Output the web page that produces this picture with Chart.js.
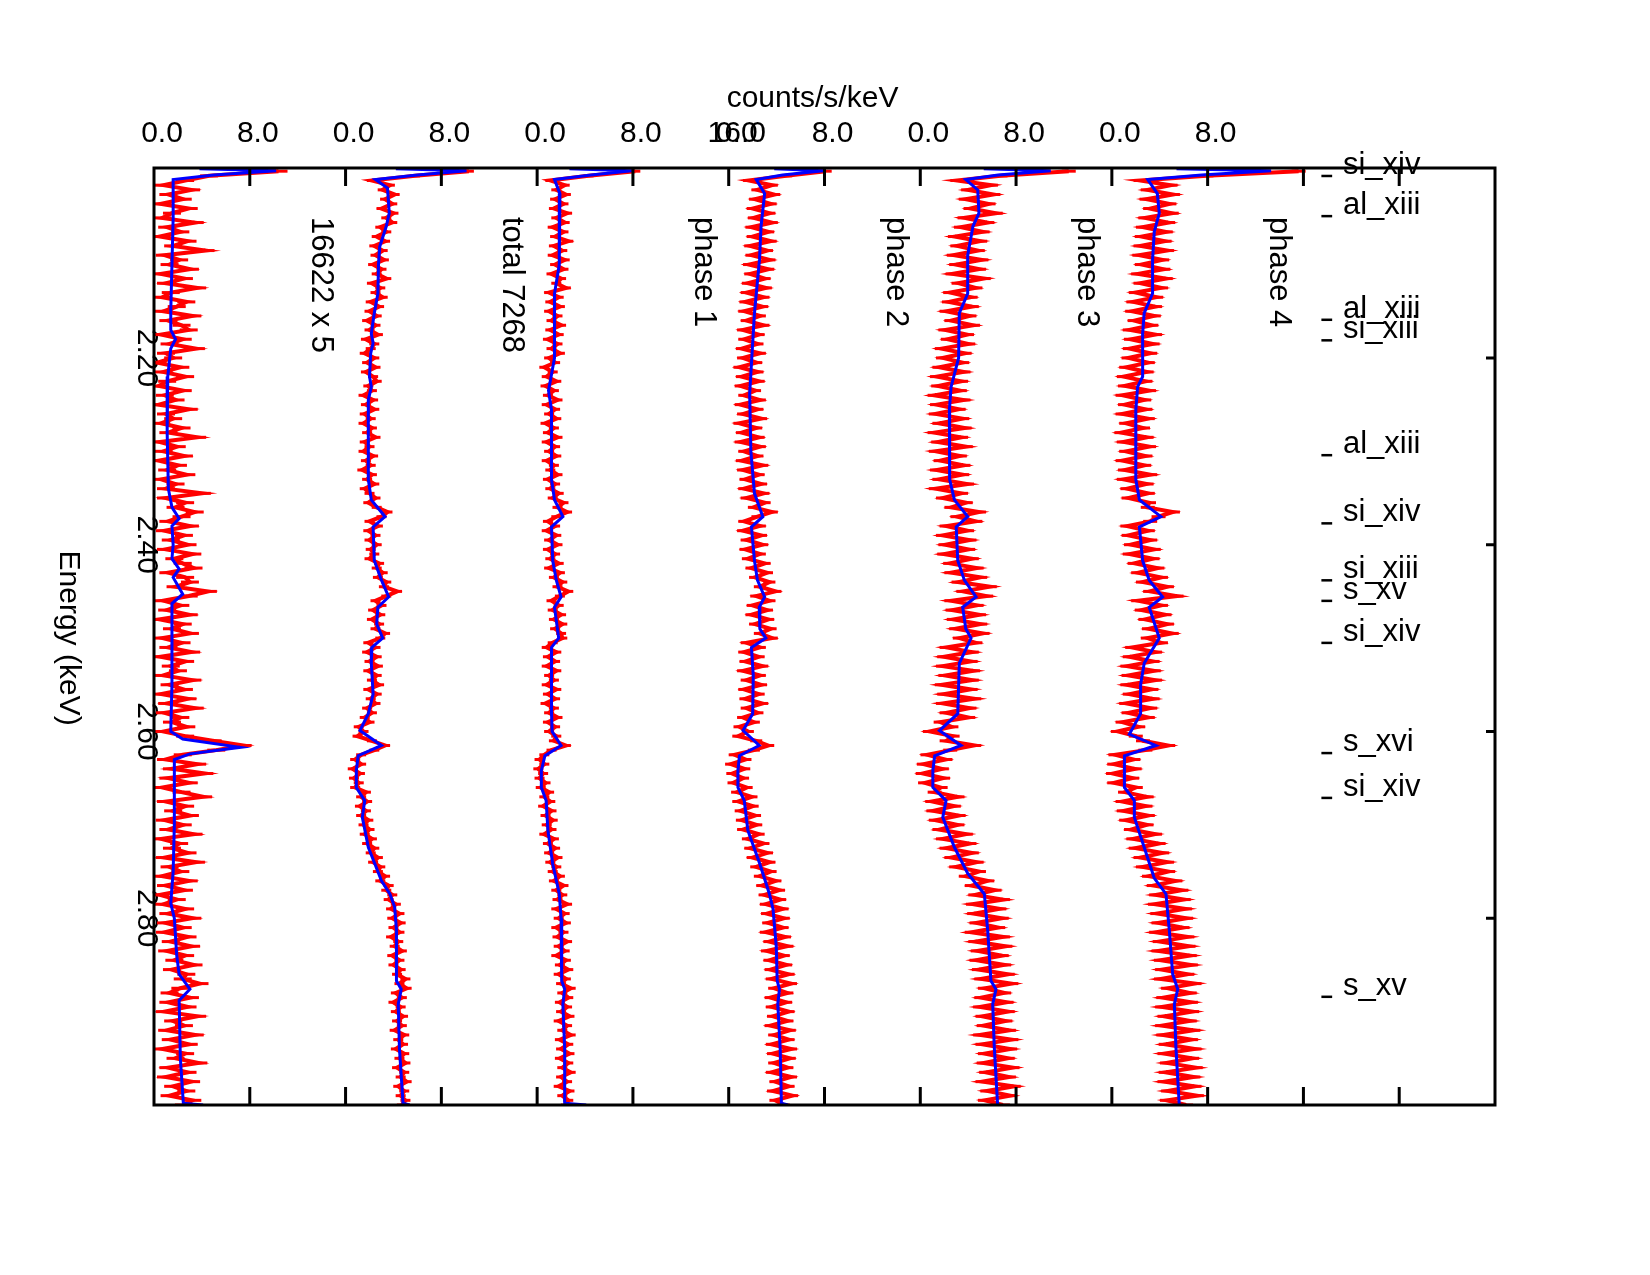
<!DOCTYPE html>
<html>
<head>
<meta charset="utf-8">
<script src="https://cdn.jsdelivr.net/npm/chart.js@4.4.1/dist/chart.umd.min.js"></script>
<style>
  html, body { margin: 0; padding: 0; background: #fff; }
  #wrap { width: 1650px; height: 1275px; }
</style>
</head>
<body>
<div id="wrap"><canvas id="spectra" width="1650" height="1275"></canvas></div>
<script>
// energy bins of the observed spectra (keV)
const binStart = 2.0;
const binWidth = 0.005;

const panelNames = ['16622 x 5', 'total 7268', 'phase 1', 'phase 2', 'phase 3', 'phase 4'];
const panelOffsets = [0, 16, 32, 48, 64, 80];

// observed counts/s/keV, one value per bin
const obs16622 = [
  10.4, 4.6, 2.6, 0.8, 3.1, 1.2, 2.4, 0.6, 2.9, 1.5,
  0.7, 3.4, 1.1, 2.2, 0.5, 2.8, 1.6, 4.3, 0.9, 2.1,
  1.3, 3.0, 0.6, 2.5, 1.0, 3.6, 1.4, 0.7, 2.7, 1.9,
  0.8, 3.2, 1.2, 2.3, 2.9, 0.6, 2.4, 1.3, 3.5, 1.0,
  1.6, 0.3, 2.2, 0.8, 2.6, 1.1, 0.4, 2.4, 0.9, 1.8,
  0.4, 2.9, 1.0, 1.6, 0.6, 2.3, 1.2, 3.6, 0.5, 1.9,
  0.8, 2.5, 0.4, 2.0, 1.1, 2.7, 0.6, 1.8, 1.0, 4.0,
  1.0, 2.6, 1.8, 3.4, 2.3, 1.2, 3.0, 0.9, 2.5, 1.4,
  2.8, 1.0, 3.2, 1.7, 2.4, 3.3, 1.2, 2.6, 3.0, 1.8,
  4.5, 2.9, 0.8, 2.2, 1.1, 2.9, 0.5, 2.4, 1.5, 3.0,
  0.7, 2.3, 1.2, 3.1, 0.6, 2.6, 1.4, 2.0, 0.8, 3.2,
  1.3, 2.5, 0.6, 2.8, 1.1, 3.4, 0.9, 2.2, 1.5, 2.7,
  0.8, 2.6, 4.9, 7.4, 5.2, 2.4, 1.0, 3.6, 1.5, 4.2,
  1.2, 2.9, 0.7, 2.3, 4.1, 1.0, 2.6, 1.6, 3.0, 0.9,
  2.4, 1.2, 3.3, 0.6, 2.1, 1.5, 2.8, 0.9, 3.5, 1.3,
  2.2, 0.7, 2.9, 1.0, 2.5, 0.5, 1.9, 0.8, 2.6, 1.2,
  3.2, 1.0, 2.4, 0.9, 2.8, 1.4, 3.1, 1.1, 2.6, 1.7,
  3.3, 1.5, 2.7, 2.4, 3.8, 2.2, 1.3, 3.0, 1.2, 2.8,
  0.9, 3.6, 1.6, 2.5, 1.1, 3.4, 1.4, 2.9, 0.7, 2.6,
  1.8, 3.7, 1.2, 2.8, 1.0, 3.1, 1.6, 2.7, 1.3, 3.2,
  2.5
];
const obsTotal = [
  10.3, 5.8, 2.2, 3.7, 3.1, 4.1, 3.3, 3.9, 3.0, 4.0,
  3.4, 3.9, 2.9, 3.4, 2.6, 3.3, 2.4, 3.1, 2.5, 3.2,
  2.3, 3.0, 2.6, 3.4, 2.2, 2.9, 2.5, 3.1, 2.1, 2.8,
  2.0, 2.6, 1.8, 2.5, 2.0, 2.7, 1.7, 2.4, 2.1, 1.6,
  2.4, 1.8, 2.5, 1.7, 2.3, 2.6, 1.9, 2.2, 1.5, 2.3,
  1.7, 2.4, 1.6, 2.1, 1.5, 2.2, 1.8, 2.5, 1.6, 2.0,
  1.5, 2.3, 1.7, 2.1, 1.4, 2.2, 1.8, 2.4, 1.6, 2.0,
  2.5, 1.9, 2.6, 3.5, 3.0, 2.0, 2.7, 1.9, 2.5, 2.0,
  2.6, 2.1, 2.4, 2.0, 2.8, 2.6, 3.1, 2.7, 3.4, 3.2,
  4.3, 3.4, 2.5, 3.0, 2.3, 2.9, 2.2, 2.8, 2.5, 3.3,
  2.9, 1.9, 2.5, 1.8, 2.6, 2.0, 2.7, 1.9, 2.6, 2.2,
  2.8, 1.9, 2.6, 2.1, 2.5, 1.8, 2.2, 1.6, 2.0, 1.1,
  1.5, 1.0, 2.2, 3.3, 2.4, 1.3, 0.8, 1.3, 0.6, 1.2,
  0.7, 1.1, 0.8, 1.7, 1.3, 1.8, 1.2, 1.7, 1.3, 1.9,
  1.5, 2.0, 1.6, 2.2, 1.8, 2.4, 2.1, 2.7, 2.3, 2.9,
  2.7, 3.3, 2.9, 3.6, 3.4, 3.9, 3.6, 4.2, 3.8, 4.5,
  3.9, 4.6, 4.0, 4.5, 3.8, 4.4, 4.1, 4.7, 3.9, 4.5,
  4.0, 4.6, 4.3, 5.0, 4.5, 5.1, 4.2, 4.7, 4.0, 4.6,
  4.2, 4.8, 4.3, 4.7, 4.1, 4.9, 4.4, 4.8, 4.2, 4.9,
  4.5, 5.0, 4.3, 4.9, 4.6, 5.1, 4.4, 4.9, 4.6, 5.0,
  4.7
];
const obsPhase1 = [
  8.2, 4.3, 1.1, 2.3, 1.6, 2.4, 1.5, 2.2, 1.4, 2.5,
  1.6, 2.3, 1.3, 2.2, 1.5, 2.6, 1.4, 2.1, 1.3, 2.3,
  1.5, 2.2, 1.2, 2.0, 1.6, 2.4, 1.0, 1.8, 1.1, 1.9,
  1.0, 1.7, 1.2, 2.0, 1.1, 1.8, 0.9, 1.7, 1.2, 1.9,
  1.0, 1.5, 0.6, 1.3, 0.8, 1.6, 0.7, 1.4, 0.9, 1.7,
  0.8, 1.5, 1.0, 1.6, 0.7, 1.4, 0.9, 1.7, 0.8, 1.5,
  1.0, 1.6, 0.8, 1.4, 1.1, 1.7, 0.9, 1.5, 1.1, 1.8,
  1.3, 2.2, 1.7, 2.5, 1.6, 0.9, 1.5, 0.8, 1.6, 1.0,
  1.7, 0.9, 1.5, 1.1, 1.8, 1.0, 1.9, 1.4, 2.1, 1.7,
  2.6, 1.9, 1.2, 1.8, 1.3, 2.0, 1.4, 2.1, 1.5, 2.0,
  2.1, 1.3, 0.8, 1.6, 0.9, 1.5, 0.8, 1.6, 1.0, 1.4,
  0.8, 1.6, 0.9, 1.5, 0.7, 1.4, 1.0, 1.7, 0.9, 1.5,
  1.0, 1.6, 1.4, 2.4, 1.2, 0.6, 0.2, 0.6, 0.1, 0.5,
  0.2, 0.7, 0.3, 1.0, 0.6, 1.1, 0.5, 1.2, 0.7, 1.3,
  0.8, 1.2, 0.6, 1.4, 0.9, 1.5, 1.0, 1.7, 1.1, 1.6,
  1.3, 1.9, 1.4, 2.2, 1.6, 2.1, 1.7, 2.5, 1.6, 2.3,
  1.8, 2.4, 1.6, 2.2, 1.7, 2.5, 1.8, 2.3, 1.6, 2.4,
  1.9, 2.6, 1.8, 2.4, 2.0, 2.8, 2.1, 2.6, 1.9, 2.5,
  2.0, 2.7, 1.8, 2.5, 2.1, 2.8, 1.9, 2.6, 2.0, 2.7,
  1.9, 2.6, 2.1, 2.8, 2.0, 2.5, 1.8, 2.7, 2.1, 2.6,
  2.4
];
const obsPhase2 = [
  8.1, 4.8, 1.7, 3.6, 2.4, 3.8, 2.2, 3.5, 2.0, 3.4,
  2.1, 3.6, 1.9, 3.3, 2.0, 3.5, 1.8, 3.2, 1.9, 3.4,
  1.7, 3.3, 1.8, 3.0, 1.6, 3.1, 1.5, 2.9, 1.4, 2.8,
  1.3, 2.6, 1.5, 2.9, 1.2, 2.5, 1.3, 2.4, 1.1, 2.6,
  1.2, 2.3, 0.9, 2.4, 1.1, 2.5, 1.0, 2.2, 1.3, 2.6,
  1.0, 2.4, 1.2, 2.7, 0.9, 2.3, 1.1, 2.5, 1.0, 2.6,
  1.3, 2.4, 1.1, 2.8, 1.2, 2.5, 1.4, 2.7, 1.3, 2.9,
  1.5, 3.0, 2.1, 3.6, 2.4, 1.3, 2.6, 1.2, 2.7, 1.5,
  2.8, 1.4, 2.6, 1.6, 3.0, 1.9, 3.2, 2.2, 3.4, 2.6,
  3.9, 2.3, 3.4, 2.0, 3.2, 1.9, 3.3, 2.2, 3.5, 2.6,
  3.6, 1.5, 2.6, 1.3, 2.5, 1.4, 2.8, 1.2, 2.6, 1.5,
  2.7, 1.3, 2.5, 1.4, 2.8, 1.5, 2.4, 1.2, 2.1, 0.9,
  1.6, 0.8, 2.3, 3.3, 2.1, 0.5, 1.4, 0.2, 1.3, 0.3,
  1.2, 0.4, 1.5, 0.7, 1.9, 0.8, 2.0, 1.0, 2.2, 1.1,
  2.3, 1.2, 2.5, 1.6, 2.9, 1.8, 3.2, 2.0, 3.4, 2.3,
  3.5, 2.6, 3.9, 2.8, 4.2, 3.0, 4.3, 3.1, 4.5, 3.2,
  4.6, 3.3, 4.5, 3.1, 4.7, 3.4, 4.9, 3.2, 4.6, 3.4,
  4.8, 3.5, 5.0, 3.6, 5.2, 3.8, 4.9, 3.5, 4.8, 3.6,
  5.0, 3.7, 4.9, 3.5, 5.1, 3.8, 5.0, 3.6, 5.2, 3.7,
  5.1, 3.8, 4.9, 3.6, 5.2, 3.9, 5.0, 3.7, 5.3, 3.9,
  4.6
];
const obsPhase3 = [
  12.4, 6.7, 3.1, 5.9, 4.0, 6.1, 3.8, 5.7, 4.2, 6.3,
  3.7, 5.6, 3.4, 5.2, 2.9, 5.0, 3.1, 4.8, 2.8, 5.1,
  3.0, 4.9, 2.7, 5.3, 3.2, 4.6, 2.5, 4.2, 2.4, 4.3,
  2.2, 4.1, 2.6, 4.4, 2.1, 3.9, 2.3, 4.0, 1.8, 3.7,
  1.9, 3.5, 1.6, 3.6, 1.4, 3.4, 1.5, 3.3, 1.2, 3.6,
  1.4, 3.2, 1.3, 3.5, 1.6, 3.7, 1.2, 3.4, 1.5, 3.8,
  1.3, 3.3, 1.7, 3.6, 1.4, 3.5, 1.6, 3.9, 1.3, 3.4,
  1.9, 3.8, 2.6, 4.9, 3.1, 4.6, 2.2, 3.9, 1.9, 4.1,
  2.1, 4.0, 2.0, 4.3, 2.5, 4.7, 2.6, 5.0, 3.2, 5.8,
  3.6, 5.5, 2.6, 4.7, 2.7, 4.9, 2.8, 5.0, 3.0, 5.2,
  3.3, 4.6, 2.2, 4.3, 2.0, 4.2, 1.9, 4.4, 2.1, 4.3,
  1.8, 4.2, 2.0, 4.5, 1.9, 4.1, 2.2, 4.0, 1.7, 2.6,
  0.8, 2.7, 2.2, 4.5, 2.5, 0.6, 2.1, 0.3, 1.8, 0.2,
  1.9, 0.4, 1.7, 1.2, 3.1, 1.0, 2.8, 1.1, 3.2, 1.3,
  3.1, 1.6, 3.8, 1.9, 4.1, 2.2, 4.3, 2.6, 4.7, 3.0,
  4.9, 3.8, 5.6, 4.3, 6.2, 4.6, 6.9, 4.4, 6.6, 4.5,
  6.8, 4.7, 6.5, 4.3, 6.9, 4.6, 7.1, 4.8, 6.8, 4.7,
  7.0, 4.9, 7.3, 5.1, 7.6, 5.4, 7.0, 5.1, 7.2, 5.0,
  7.3, 5.2, 7.1, 5.3, 7.4, 5.0, 7.6, 5.2, 7.5, 5.4,
  7.3, 5.3, 7.7, 5.5, 7.4, 5.2, 7.8, 5.6, 7.5, 5.4,
  6.9
];
const obsPhase4 = [
  15.6, 7.9, 2.4, 4.9, 3.0, 5.1, 2.9, 4.8, 3.2, 5.0,
  2.8, 4.7, 2.6, 4.5, 2.5, 4.4, 2.4, 4.6, 2.3, 4.2,
  2.5, 4.3, 2.2, 4.5, 2.4, 4.1, 2.0, 3.7, 1.8, 3.6,
  1.7, 3.5, 1.9, 3.3, 1.5, 3.6, 1.6, 3.4, 1.5, 3.2,
  1.4, 3.0, 1.2, 2.9, 1.0, 2.8, 1.1, 3.1, 0.9, 2.7,
  1.1, 2.8, 0.9, 3.0, 1.2, 2.6, 0.8, 2.9, 1.0, 3.1,
  1.2, 2.8, 0.9, 2.7, 1.1, 3.2, 1.0, 2.9, 1.3, 3.0,
  1.4, 3.1, 3.0, 5.1, 3.9, 3.2, 1.3, 3.0, 1.4, 3.2,
  1.6, 3.5, 1.5, 3.4, 1.9, 3.8, 2.2, 4.1, 2.6, 4.6,
  3.2, 5.4, 2.2, 4.1, 2.5, 4.4, 2.8, 4.6, 3.1, 5.0,
  3.0, 4.1, 1.7, 3.6, 1.5, 3.4, 1.3, 3.5, 1.4, 3.6,
  1.3, 3.3, 1.5, 3.4, 1.2, 3.2, 1.4, 3.0, 0.9, 2.2,
  0.5, 2.0, 2.6, 4.7, 2.8, 0.3, 1.8, 0.2, 1.9, 0.1,
  1.7, 0.2, 2.0, 1.1, 2.9, 0.9, 2.8, 1.0, 3.0, 1.2,
  2.9, 1.6, 3.6, 1.8, 3.9, 2.0, 4.2, 2.4, 4.6, 2.6,
  4.7, 3.1, 5.3, 3.5, 5.8, 3.7, 6.0, 3.6, 6.1, 3.8,
  6.2, 3.9, 5.9, 3.7, 6.3, 4.0, 6.4, 3.9, 6.5, 4.1,
  6.6, 4.2, 6.3, 4.1, 6.9, 4.7, 6.5, 4.3, 6.6, 4.2,
  6.7, 4.4, 6.5, 4.2, 6.8, 4.3, 6.6, 4.5, 6.9, 4.4,
  6.7, 4.6, 7.0, 4.5, 6.8, 4.4, 6.9, 4.7, 7.1, 4.6,
  6.2
];

// model curves, [energy keV, counts/s/keV]
const model16622 = [
  [1.9975, 3.8], [1.9995, 10.2], [2.004, 5.0], [2.009, 1.6], [2.05, 1.6], [2.10, 1.5],
  [2.15, 1.4], [2.17, 1.4], [2.18, 1.8], [2.19, 1.4], [2.22, 1.15], [2.28, 1.1],
  [2.34, 1.2], [2.36, 1.5], [2.372, 2.1], [2.38, 1.5], [2.40, 1.6], [2.415, 1.5],
  [2.426, 2.1], [2.435, 1.6], [2.453, 2.4], [2.463, 1.5], [2.50, 1.5], [2.55, 1.5],
  [2.60, 1.4], [2.608, 2.4], [2.617, 7.2], [2.624, 3.0], [2.63, 1.7], [2.70, 1.7],
  [2.75, 1.6], [2.784, 1.4], [2.80, 1.7], [2.84, 1.9], [2.86, 2.1], [2.876, 3.0],
  [2.888, 2.1], [2.95, 2.2], [2.998, 2.45], [3.0, 4.1]
];
const modelTotal = [
  [1.9975, 4.2], [1.9995, 10.1], [2.004, 6.0], [2.009, 2.5], [2.018, 3.5], [2.045, 3.65],
  [2.059, 3.4], [2.081, 2.85], [2.10, 2.75], [2.131, 2.7], [2.152, 2.4], [2.174, 2.15],
  [2.184, 2.3], [2.195, 2.1], [2.22, 2.0], [2.231, 2.15], [2.245, 1.9], [2.33, 1.9],
  [2.352, 2.15], [2.37, 3.3], [2.381, 2.3], [2.417, 2.4], [2.438, 3.0], [2.456, 3.6],
  [2.467, 2.7], [2.485, 2.6], [2.50, 3.1], [2.51, 2.2], [2.527, 2.15], [2.56, 2.3],
  [2.581, 1.9], [2.599, 1.2], [2.615, 3.0], [2.626, 1.05], [2.642, 0.9], [2.66, 0.9],
  [2.674, 1.6], [2.692, 1.4], [2.724, 1.9], [2.742, 2.45], [2.76, 3.0], [2.774, 3.7],
  [2.788, 4.1], [2.813, 4.25], [2.867, 4.25], [2.876, 4.65], [2.892, 4.4], [2.94, 4.5],
  [2.998, 4.8], [3.0, 5.35]
];
const modelPhase1 = [
  [1.9975, 2.7], [1.9995, 7.9], [2.004, 4.5], [2.009, 1.45], [2.024, 1.9], [2.06, 1.85],
  [2.10, 1.85], [2.131, 1.45], [2.20, 1.45], [2.235, 0.95], [2.256, 1.2], [2.33, 1.2],
  [2.352, 1.45], [2.37, 2.15], [2.381, 1.2], [2.417, 1.3], [2.438, 1.6], [2.456, 2.0],
  [2.467, 1.45], [2.50, 1.8], [2.51, 1.2], [2.58, 1.2], [2.60, 1.25], [2.615, 2.0],
  [2.626, 0.65], [2.642, 0.35], [2.66, 0.35], [2.674, 0.75], [2.706, 0.9], [2.742, 1.3],
  [2.774, 1.85], [2.80, 2.0], [2.867, 2.05], [2.876, 2.3], [2.892, 2.15], [2.94, 2.3],
  [2.998, 2.3], [3.0, 4.1]
];
const modelPhase2 = [
  [1.9975, 3.8], [1.9995, 7.9], [2.004, 4.5], [2.009, 2.3], [2.024, 3.0], [2.059, 2.7],
  [2.095, 2.57], [2.152, 2.15], [2.238, 1.75], [2.30, 1.85], [2.345, 2.15], [2.37, 2.85],
  [2.381, 1.9], [2.417, 2.15], [2.438, 2.4], [2.456, 3.0], [2.467, 2.55], [2.49, 2.6],
  [2.50, 3.1], [2.51, 1.9], [2.54, 2.05], [2.581, 2.0], [2.599, 1.2], [2.615, 2.55],
  [2.626, 0.9], [2.642, 0.77], [2.66, 0.77], [2.674, 1.3], [2.706, 1.6], [2.742, 2.6],
  [2.774, 3.4], [2.79, 3.7], [2.83, 3.97], [2.867, 4.05], [2.876, 4.24], [2.892, 4.1],
  [2.94, 4.3], [2.998, 4.4], [3.0, 4.95]
];
const modelPhase3 = [
  [1.9975, 5.3], [1.9995, 10.9], [2.004, 6.5], [2.009, 3.8], [2.02, 4.8], [2.045, 4.9],
  [2.059, 4.4], [2.09, 3.96], [2.131, 3.96], [2.152, 3.26], [2.20, 3.2], [2.231, 2.57],
  [2.256, 2.43], [2.33, 2.45], [2.352, 2.85], [2.37, 3.96], [2.381, 3.0], [2.417, 3.13],
  [2.438, 3.68], [2.456, 4.66], [2.467, 3.54], [2.49, 3.8], [2.50, 4.24], [2.527, 3.26],
  [2.581, 3.13], [2.599, 1.6], [2.615, 3.4], [2.626, 1.2], [2.642, 1.05], [2.66, 1.05],
  [2.674, 2.15], [2.692, 1.88], [2.724, 2.85], [2.752, 3.96], [2.774, 5.35], [2.813, 5.63],
  [2.867, 5.9], [2.876, 6.32], [2.892, 6.05], [2.938, 6.18], [3.0, 6.46]
];
const modelPhase4 = [
  [1.9975, 5.4], [1.9995, 13.3], [2.004, 7.5], [2.009, 3.0], [2.024, 3.8], [2.045, 3.96],
  [2.065, 3.54], [2.095, 3.4], [2.131, 3.4], [2.152, 2.7], [2.174, 2.57], [2.22, 2.57],
  [2.231, 2.15], [2.256, 2.0], [2.33, 2.0], [2.352, 2.3], [2.37, 4.1], [2.381, 2.3],
  [2.417, 2.57], [2.438, 3.12], [2.456, 4.24], [2.467, 3.12], [2.50, 3.96], [2.527, 2.7],
  [2.55, 2.4], [2.581, 2.4], [2.603, 1.46], [2.615, 3.68], [2.626, 1.05], [2.66, 1.05],
  [2.674, 1.88], [2.692, 1.88], [2.724, 2.7], [2.757, 3.54], [2.774, 4.52], [2.813, 4.8],
  [2.86, 5.08], [2.876, 5.5], [2.892, 5.22], [2.938, 5.35], [3.0, 5.63]
];

// line identifications
const lineNames = ['si_xiv', 'al_xiii', 'al_xiii', 'si_xiii', 'al_xiii', 'si_xiv',
                   'si_xiii', 's_xv', 'si_xiv', 's_xvi', 'si_xiv', 's_xv'];
const lineEnergies = [2.003, 2.046, 2.157, 2.179, 2.302, 2.375,
                      2.436, 2.458, 2.503, 2.621, 2.669, 2.882];

// axis ticks
const countTicks = [8, 16, 24, 32, 40, 48, 56, 64, 72, 80, 88, 96, 104];
const countLabelValues = [0, 8, 16, 24, 32, 40, 48, 56, 64, 72, 80, 88, 48];
const countLabels = ['0.0', '8.0', '0.0', '8.0', '0.0', '8.0', '0.0', '8.0', '0.0', '8.0', '0.0', '8.0', '16.0'];
const energyTicks = [2.2, 2.4, 2.6, 2.8];
const energyLabels = ['2.20', '2.40', '2.60', '2.80'];

const observed = [obs16622, obsTotal, obsPhase1, obsPhase2, obsPhase3, obsPhase4];
const models = [model16622, modelTotal, modelPhase1, modelPhase2, modelPhase3, modelPhase4];
// half length of the horizontal error bars, px
const errHalf = [9, 5, 5, 6, 7, 7];

const FONT = '"Liberation Sans", Arial, Helvetica, sans-serif';

// axis text sits under the data, as in the original plot
const axisText = {
  id: 'axisText',
  beforeDatasetsDraw(chart) {
    const { ctx, scales: { y } } = chart;
    ctx.save();
    ctx.fillStyle = '#000';
    ctx.font = '30px ' + FONT;
    energyTicks.forEach((e, i) => {
      ctx.save();
      ctx.translate(146, y.getPixelForValue(e));
      ctx.rotate(Math.PI / 2);
      ctx.textAlign = 'center';
      ctx.textBaseline = 'middle';
      ctx.fillText(energyLabels[i], 0, 0);
      ctx.restore();
    });
    ctx.restore();
  }
};

const datasets = [];
observed.forEach((vals, k) => {
  datasets.push({
    data: vals.map((v, i) => ({ x: v + panelOffsets[k], y: binStart + i * binWidth })),
    showLine: true,
    borderColor: '#ff0000',
    borderWidth: 4,
    pointStyle: 'line',
    pointRadius: errHalf[k],
    pointHoverRadius: errHalf[k],
    pointBorderColor: '#ff0000',
    pointBorderWidth: 3,
    order: 2
  });
});
models.forEach((pts, k) => {
  datasets.push({
    data: pts.map(p => ({ x: p[1] + panelOffsets[k], y: p[0] })),
    showLine: true,
    borderColor: '#0000ff',
    borderWidth: 3,
    pointRadius: 0,
    order: 1
  });
});

const frame = {
  id: 'frame',
  afterDraw(chart) {
    const { ctx, chartArea: a, scales: { x, y } } = chart;
    ctx.save();
    ctx.strokeStyle = '#000';
    ctx.fillStyle = '#000';
    ctx.lineWidth = 3;
    ctx.strokeRect(a.left, a.top, a.right - a.left, a.bottom - a.top);

    ctx.beginPath();
    countTicks.forEach(v => {
      const px = x.getPixelForValue(v);
      ctx.moveTo(px, a.top); ctx.lineTo(px, a.top + 18);
      ctx.moveTo(px, a.bottom); ctx.lineTo(px, a.bottom - 18);
    });
    energyTicks.forEach(e => {
      const py = y.getPixelForValue(e);
      ctx.moveTo(a.right, py); ctx.lineTo(a.right - 9, py);
    });
    ctx.stroke();

    // count labels along the top
    ctx.font = '30px ' + FONT;
    ctx.textAlign = 'center';
    ctx.textBaseline = 'alphabetic';
    countLabelValues.forEach((v, i) => {
      ctx.fillText(countLabels[i], x.getPixelForValue(v) + 8, 142);
    });
    ctx.fillText('counts/s/keV', x.getPixelForValue(55), 107);

    ctx.save();
    ctx.translate(68, y.getPixelForValue(2.5));
    ctx.rotate(Math.PI / 2);
    ctx.textAlign = 'center';
    ctx.textBaseline = 'middle';
    ctx.fillText('Energy (keV)', 0, 0);
    ctx.restore();

    // panel names
    ctx.font = '31px ' + FONT;
    panelNames.forEach((name, k) => {
      ctx.save();
      ctx.translate(x.getPixelForValue(panelOffsets[k] + 13.9), y.getPixelForValue(2.049));
      ctx.rotate(Math.PI / 2);
      ctx.textAlign = 'left';
      ctx.textBaseline = 'middle';
      ctx.fillText(name, 0, 0);
      ctx.restore();
    });

    // line identifications
    ctx.textAlign = 'left';
    ctx.textBaseline = 'alphabetic';
    ctx.lineWidth = 2.5;
    lineNames.forEach((name, i) => {
      const py = y.getPixelForValue(lineEnergies[i]);
      ctx.beginPath();
      ctx.moveTo(x.getPixelForValue(97.5), py + 2);
      ctx.lineTo(x.getPixelForValue(98.4), py + 2);
      ctx.stroke();
      ctx.fillText(name, x.getPixelForValue(99.3), py);
    });
    ctx.restore();
  }
};

new Chart(document.getElementById('spectra'), {
  type: 'scatter',
  data: { datasets },
  options: {
    responsive: false,
    animation: false,
    devicePixelRatio: 1,
    layout: { padding: { left: 154, top: 168, right: 155, bottom: 170 } },
    elements: { line: { tension: 0 } },
    scales: {
      x: { type: 'linear', min: 0, max: 112, display: false },
      y: { type: 'linear', min: 1.9966, max: 3.0, reverse: true, display: false }
    },
    plugins: { legend: { display: false }, tooltip: { enabled: false } }
  },
  plugins: [axisText, frame]
});
</script>
</body>
</html>
